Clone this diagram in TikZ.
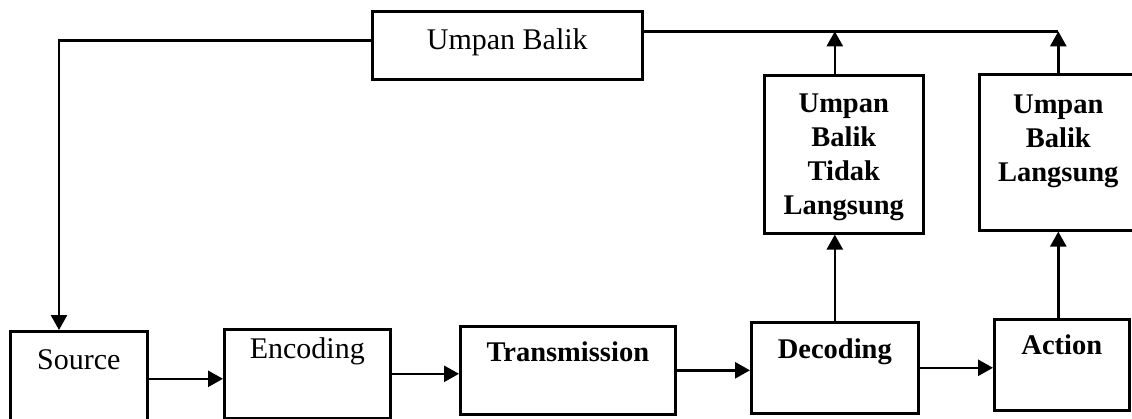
\documentclass[tikz,border=0pt]{standalone}
\usepackage{fontspec}
\setmainfont{Liberation Serif}
\usetikzlibrary{arrows.meta}

\begin{document}
\begin{tikzpicture}[x=1pt,y=-1pt,line width=2.6pt,
  box/.style={draw,anchor=north west,inner sep=0pt,align=center,
    font=\fontsize{30}{34}\selectfont},
  boxb/.style={box,font=\fontsize{28.5}{34}\selectfont\bfseries},
  arr/.style={-{Triangle[length=15pt,width=16pt]}}]
\useasboundingbox (0,0) rectangle (1132,418);
% main chain
\node[box,minimum width=137pt,text height=38pt,text depth=57pt] (src) at (9,330) {Source};
\node[box,minimum width=166pt,text height=29pt,text depth=60pt] (enc) at (223,328) {Encoding};
\node[boxb,minimum width=215pt,text height=35pt,text depth=53pt] (trn) at (459,325) {Transmission};
\node[boxb,minimum width=167pt,text height=36pt,text depth=55pt] (dec) at (750,321) {Decoding};
\node[boxb,minimum width=135pt,text height=35pt,text depth=56pt] (act) at (993,318) {Action};
% feedback boxes
\node[box,minimum width=270pt,text height=38pt,text depth=30pt] (fb) at (371,10) {Umpan Balik};
\node[boxb,minimum width=159pt,text height=139pt,text depth=19pt] (ubtl) at (763,74) {Umpan\\Balik\\Tidak\\Langsung};
\node[boxb,minimum width=158pt,text height=107pt,text depth=49pt] (ubl) at (978,73) {Umpan\\Balik\\Langsung};
\coordinate (fbr) at ([yshift=14pt]fb.east);

\draw[arr] (src.east) -- (src.east -| enc.west);
\draw[arr] (enc.east) -- (enc.east -| trn.west);
\draw[arr] (trn.east) -- (trn.east -| dec.west);
\draw[arr] (dec.east) -- (dec.east -| act.west);
\draw[arr] (dec.north) -- (dec.north |- ubtl.south);
\draw[arr] (ubl.south |- act.north) -- (ubl.south);
\draw[arr] (dec.north |- ubtl.north) -- (dec.north |- fbr);
\draw[arr] (ubl.north) -- (ubl.north |- fbr);
\draw (fbr) -- (ubl.north |- fbr);
\draw[arr] ([yshift=5pt]fb.west) -| ([xshift=50pt]src.north west);
\end{tikzpicture}
\end{document}
